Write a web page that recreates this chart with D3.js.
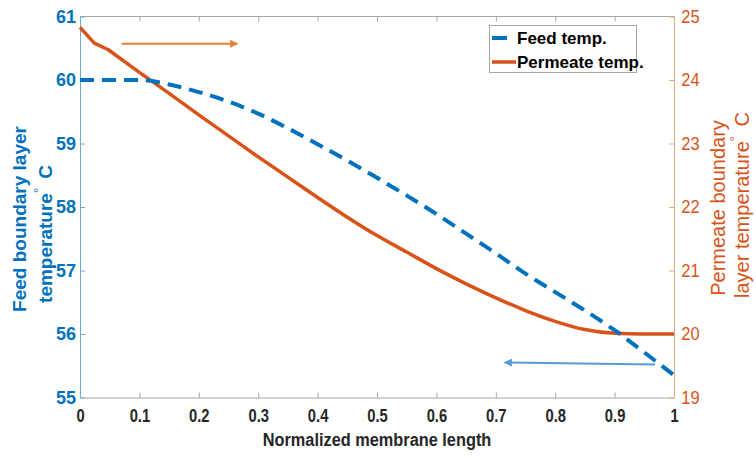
<!DOCTYPE html>
<html><head><meta charset="utf-8">
<script src="https://cdn.jsdelivr.net/npm/d3@7"></script>
<style>
html,body{margin:0;padding:0;background:#fff;}
svg{display:block;}
</style></head>
<body>
<svg id="chart" width="756" height="458"></svg>
<script>
// ---- data ----
const xPos = [0, 0.024, 0.047, 0.1, 0.15, 0.2, 0.25, 0.3, 0.35, 0.4, 0.45, 0.5, 0.55, 0.6, 0.65, 0.7, 0.75, 0.8, 0.85, 0.9, 0.95, 1.0];
const feedTemp = [60, 60, 60, 60, 59.93, 59.81, 59.66, 59.47, 59.24, 58.99, 58.73, 58.46, 58.18, 57.89, 57.58, 57.27, 56.95, 56.66, 56.37, 56.06, 55.71, 55.35];
const permTemp = [24.83, 24.58, 24.48, 24.12, 23.79, 23.45, 23.12, 22.79, 22.47, 22.15, 21.84, 21.55, 21.29, 21.03, 20.79, 20.57, 20.37, 20.2, 20.07, 20.01, 20.0, 20.0];
const xTicks = [0, 0.1, 0.2, 0.3, 0.4, 0.5, 0.6, 0.7, 0.8, 0.9, 1];
const leftTicks = [55, 56, 57, 58, 59, 60, 61];
const rightTicks = [19, 20, 21, 22, 23, 24, 25];
const seriesNames = ["Feed temp.", "Permeate temp."];
// annotation arrows in data coords (x, left-axis value)
const arrowRight = {x1: 0.07, x2: 0.265, y1: 60.57, y2: 60.57};
const arrowLeft = {x1: 0.968, x2: 0.715, y1: 55.52, y2: 55.55};

// ---- layout ----
const L = 80, R = 674, T = 16.5, B = 397.5;
const blue = "#0072BD", orange = "#D95319";
const svg = d3.select("#chart");

const x = d3.scaleLinear().domain([0, 1]).range([L, R]);
const yL = d3.scaleLinear().domain([55, 61]).range([B, T]);
const yR = d3.scaleLinear().domain([19, 25]).range([B, T]);

const defs = svg.append("defs");
function marker(id, color) {
  defs.append("marker").attr("id", id).attr("viewBox", "0 0 10 10")
    .attr("refX", 9).attr("refY", 5).attr("markerWidth", 10).attr("markerHeight", 8)
    .attr("markerUnits", "userSpaceOnUse").attr("orient", "auto")
    .append("path").attr("d", "M0,0 L10,5 L0,10 Z").attr("fill", color);
}
marker("ah-o", "#ED7D31");
marker("ah-b", "#5B9BD5");

// frame top
svg.append("line").attr("x1", L).attr("x2", R).attr("y1", T).attr("y2", T).attr("stroke", "#a6a6a6").attr("stroke-width", 1);

// bottom axis
const gx = svg.append("g").attr("transform", `translate(0,${B})`)
  .call(d3.axisBottom(x).tickValues(xTicks).tickSizeInner(-5).tickSizeOuter(0).tickPadding(12)
    .tickFormat(d => d === 0 ? "0" : d === 1 ? "1" : d3.format(".1f")(d)));
gx.select(".domain").attr("stroke", "#a6a6a6");
gx.selectAll(".tick line").attr("stroke", "#a6a6a6");
gx.selectAll(".tick text").attr("fill", "#262626")
  .attr("transform", "scale(0.82,1)")
  .style("font-family", "'Liberation Sans', Arial, sans-serif")
  .style("font-weight", "bold").style("font-size", "18px");

// top ticks
const gt = svg.append("g").attr("transform", `translate(0,${T})`)
  .call(d3.axisTop(x).tickValues(xTicks).tickSizeInner(-5).tickSizeOuter(0).tickFormat(""));
gt.select(".domain").remove();
gt.selectAll(".tick line").attr("stroke", "#a6a6a6");

// left axis
const gl = svg.append("g").attr("transform", `translate(${L},0)`)
  .call(d3.axisLeft(yL).tickValues(leftTicks).tickSizeInner(-5).tickSizeOuter(0).tickPadding(4).tickFormat(d3.format("d")));
gl.select(".domain").attr("stroke", "#6fa8d6");
gl.selectAll(".tick line").attr("stroke", "#6fa8d6");
gl.selectAll(".tick text").attr("fill", blue)
  .style("font-family", "'Liberation Sans', Arial, sans-serif")
  .style("font-weight", "bold").style("font-size", "18px");

// right axis
const gr = svg.append("g").attr("transform", `translate(${R},0)`)
  .call(d3.axisRight(yR).tickValues(rightTicks).tickSizeInner(-5).tickSizeOuter(0).tickPadding(8).tickFormat(d3.format("d")));
gr.select(".domain").attr("stroke", "#e3a987");
gr.selectAll(".tick line").attr("stroke", "#e3a987");
gr.selectAll(".tick text").attr("fill", orange)
  .attr("transform", "scale(0.92,1)")
  .style("font-family", "'Liberation Sans', Arial, sans-serif")
  .style("font-size", "18px");

// lines
const idx = d3.range(xPos.length);
const lineFeed = d3.line().x(i => x(xPos[i])).y(i => yL(feedTemp[i])).curve(d3.curveMonotoneX);
const linePerm = d3.line().x(i => x(xPos[i])).y(i => yR(permTemp[i])).curve(d3.curveLinear);
const permSmooth = d3.line().x(i => x(xPos[i])).y(i => yR(permTemp[i])).curve(d3.curveMonotoneX);

svg.append("path").attr("d", linePerm(idx.slice(0, 4)))
  .attr("fill", "none").attr("stroke", orange).attr("stroke-width", 3.5).attr("stroke-linejoin", "round");
svg.append("path").attr("d", permSmooth(idx.slice(3)))
  .attr("fill", "none").attr("stroke", orange).attr("stroke-width", 3.5).attr("stroke-linejoin", "round");

svg.append("path").attr("d", lineFeed(idx))
  .attr("fill", "none").attr("stroke", blue).attr("stroke-width", 4)
  .attr("stroke-dasharray", "14,8");

// arrows
svg.append("line").attr("x1", x(arrowRight.x1)).attr("x2", x(arrowRight.x2))
  .attr("y1", yL(arrowRight.y1)).attr("y2", yL(arrowRight.y2))
  .attr("stroke", "#ED7D31").attr("stroke-width", 2).attr("marker-end", "url(#ah-o)");
svg.append("line").attr("x1", x(arrowLeft.x1)).attr("x2", x(arrowLeft.x2))
  .attr("y1", yL(arrowLeft.y1)).attr("y2", yL(arrowLeft.y2))
  .attr("stroke", "#5B9BD5").attr("stroke-width", 2).attr("marker-end", "url(#ah-b)");

// legend
const lg = svg.append("g");
lg.append("rect").attr("x", 489.5).attr("y", 25.5).attr("width", 147).attr("height", 47)
  .attr("fill", "#fff").attr("stroke", "#a6a6a6").attr("stroke-width", 1);
lg.append("line").attr("x1", 492).attr("x2", 507).attr("y1", 38).attr("y2", 38)
  .attr("stroke", blue).attr("stroke-width", 4);
lg.append("line").attr("x1", 492).attr("x2", 516).attr("y1", 62).attr("y2", 62)
  .attr("stroke", orange).attr("stroke-width", 3.5);
lg.selectAll("text.lt").data(seriesNames).enter().append("text")
  .attr("x", 517).attr("y", (d, i) => 44 + i * 24)
  .attr("fill", "#000")
  .style("font-family", "'Liberation Sans', Arial, sans-serif")
  .style("font-weight", "bold").style("font-size", "17px")
  .text(d => d);

// x title
svg.append("g").attr("transform", `translate(${(L + R) / 2},446) scale(0.86,1)`)
  .append("text").attr("text-anchor", "middle")
  .attr("fill", "#262626")
  .style("font-family", "'Liberation Sans', Arial, sans-serif")
  .style("font-weight", "bold").style("font-size", "19px")
  .text("Normalized membrane length");

// left title
const lt = svg.append("text").attr("transform", "translate(26,219) rotate(-90)")
  .attr("text-anchor", "middle").attr("fill", blue)
  .style("font-family", "'Liberation Sans', Arial, sans-serif")
  .style("font-weight", "bold").style("font-size", "19px");
lt.append("tspan").attr("x", 0).attr("y", 0).text("Feed boundary layer");
const lt2 = svg.append("text").attr("transform", "translate(52,234) rotate(-90)")
  .attr("text-anchor", "middle").attr("fill", blue)
  .style("font-family", "'Liberation Sans', Arial, sans-serif")
  .style("font-weight", "bold").style("font-size", "19px");
lt2.append("tspan").text("temperature");
lt2.append("tspan").attr("dy", -9).style("font-size", "13px").style("font-weight", "normal").text("\u00B0");
lt2.append("tspan").attr("dy", 9).text("\u2009 C");

// right title
const rt = svg.append("text").attr("transform", "translate(725,208) rotate(-90)")
  .attr("text-anchor", "middle").attr("fill", orange)
  .style("font-family", "'Liberation Sans', Arial, sans-serif")
  .style("font-size", "20px");
rt.text("Permeate boundary");
const rt2 = svg.append("text").attr("transform", "translate(749,205) rotate(-90)")
  .attr("text-anchor", "middle").attr("fill", orange)
  .style("font-family", "'Liberation Sans', Arial, sans-serif")
  .style("font-size", "20px");
rt2.append("tspan").text("layer temperature");
rt2.append("tspan").attr("dy", -10).style("font-size", "13px").text("\u00B0");
rt2.append("tspan").attr("dy", 10).text("\u2009 C");
</script>
</body></html>
